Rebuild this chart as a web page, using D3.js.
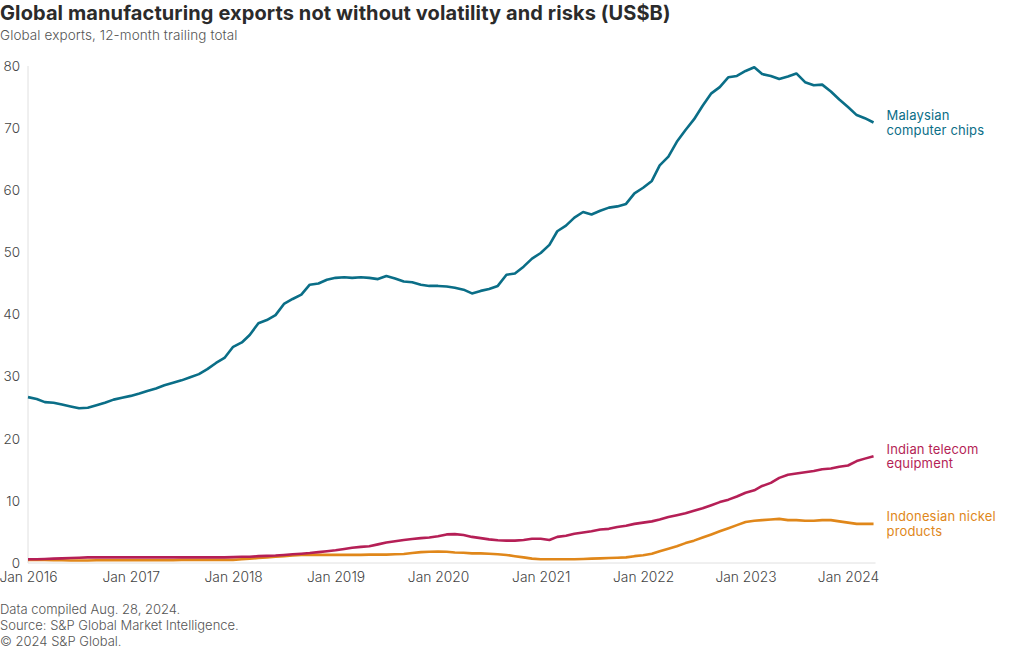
<!DOCTYPE html>
<html>
<head>
<meta charset="utf-8">
<script src="https://cdn.jsdelivr.net/npm/d3@7"></script>
<style>
  body { margin: 0; background: #fff; }
  svg text { font-family: "Inter", "Roboto", sans-serif; }
</style>
</head>
<body>
<svg id="chart" width="1020" height="650"></svg>
<script>
// ---- Data ----
const startMonth = "2016-01";   // monthly series, Jan 2016 .. Apr 2024
const seriesNames = ["Malaysian computer chips", "Indian telecom equipment", "Indonesian nickel products"];
const labelLines = [["Malaysian", "computer chips"], ["Indian telecom", "equipment"], ["Indonesian nickel", "products"]];
const malaysia = [
  26.7, 26.4, 25.9, 25.8, 25.5, 25.2, 24.9, 25.0, 25.4, 25.8, 26.3, 26.6,
  26.9, 27.3, 27.7, 28.1, 28.6, 29.0, 29.4, 29.9, 30.4, 31.2, 32.2, 33.0,
  34.8, 35.5, 36.7, 38.6, 39.1, 39.9, 41.7, 42.5, 43.2, 44.8, 45.0, 45.6,
  45.9, 46.0, 45.9, 46.0, 45.9, 45.7, 46.2, 45.8, 45.3, 45.2, 44.8, 44.6,
  44.6, 44.5, 44.3, 44.0, 43.4, 43.8, 44.1, 44.6, 46.4, 46.6, 47.7, 49.0,
  49.9, 51.2, 53.4, 54.3, 55.6, 56.5, 56.1, 56.7, 57.2, 57.4, 57.8, 59.5,
  60.4, 61.5, 64.0, 65.4, 67.8, 69.7, 71.4, 73.6, 75.6, 76.6, 78.2, 78.4,
  79.2, 79.8, 78.7, 78.4, 77.9, 78.3, 78.8, 77.4, 76.9, 77.0, 75.9, 74.6,
  73.4, 72.1, 71.6, 70.9
];
const india = [
  0.6, 0.6, 0.65, 0.7, 0.75, 0.8, 0.85, 0.9, 0.9, 0.9, 0.9, 0.9,
  0.9, 0.9, 0.9, 0.9, 0.9, 0.9, 0.9, 0.9, 0.9, 0.9, 0.9, 0.9,
  0.95, 1.0, 1.0, 1.1, 1.15, 1.2, 1.3, 1.4, 1.5, 1.6, 1.75, 1.9,
  2.05, 2.25, 2.45, 2.6, 2.7, 3.0, 3.3, 3.5, 3.7, 3.85, 4.0, 4.1,
  4.3, 4.6, 4.65, 4.5, 4.2, 4.0, 3.8, 3.65, 3.6, 3.6, 3.7, 3.9,
  3.9, 3.7, 4.2, 4.4, 4.7, 4.9, 5.1, 5.4, 5.5, 5.8, 6.0, 6.3,
  6.5, 6.7, 7.0, 7.4, 7.7, 8.0, 8.4, 8.8, 9.3, 9.8, 10.2, 10.7,
  11.3, 11.7, 12.4, 12.9, 13.7, 14.2, 14.4, 14.6, 14.8, 15.1, 15.2, 15.5,
  15.7, 16.4, 16.8, 17.2
];
const indonesia = [
  0.5, 0.5, 0.5, 0.45, 0.45, 0.4, 0.4, 0.4, 0.45, 0.45, 0.45, 0.45,
  0.45, 0.45, 0.45, 0.45, 0.45, 0.45, 0.5, 0.5, 0.5, 0.5, 0.5, 0.5,
  0.5, 0.6, 0.7, 0.8, 0.9, 1.0, 1.1, 1.2, 1.3, 1.3, 1.3, 1.3,
  1.3, 1.3, 1.3, 1.3, 1.35, 1.35, 1.35, 1.4, 1.45, 1.6, 1.75, 1.8,
  1.85, 1.8, 1.7, 1.65, 1.55, 1.55, 1.5, 1.4, 1.3, 1.1, 0.9, 0.7,
  0.6, 0.6, 0.6, 0.6, 0.6, 0.65, 0.7, 0.75, 0.8, 0.85, 0.9, 1.1,
  1.25, 1.5, 1.9, 2.3, 2.7, 3.2, 3.6, 4.1, 4.6, 5.1, 5.6, 6.1,
  6.6, 6.8, 6.9, 7.0, 7.1, 6.9, 6.9, 6.8, 6.8, 6.9, 6.9, 6.7,
  6.5, 6.3, 6.3, 6.3
];
const yTicks = [0, 10, 20, 30, 40, 50, 60, 70, 80];
const xTickYears = [2016, 2017, 2018, 2019, 2020, 2021, 2022, 2023, 2024];
const colors = ["#0a6e87", "#b51f56", "#e0871a"];
const title = "Global manufacturing exports not without volatility and risks (US$B)";
const subtitle = "Global exports, 12-month trailing total";
const footer = ["Data compiled Aug. 28, 2024.", "Source: S&P Global Market Intelligence.", "© 2024 S&P Global."];

// ---- Build ----
const parse = d3.timeParse("%Y-%m");
const t0 = parse(startMonth);
const allSeries = [malaysia, india, indonesia];
const dates = malaysia.map((_, i) => d3.timeMonth.offset(t0, i));

const svg = d3.select("#chart");
const x = d3.scaleTime()
  .domain([new Date(2016, 0, 1), new Date(2024, 0, 1)])
  .range([28, 848]);
const y = d3.scaleLinear().domain([0, 80]).range([563, 66]);

// title
svg.append("text").attr("x", 0).attr("y", 20)
  .attr("font-size", 20).attr("font-weight", 700).attr("fill", "#2b2b2b")
  .attr("letter-spacing", 0.1)
  .text(title);
svg.append("text").attr("x", 0).attr("y", 40)
  .attr("font-size", 13.5).attr("font-weight", 300).attr("fill", "#555")
  .attr("letter-spacing", 0.1)
  .text(subtitle);

// axes lines
const lastX = x(dates[dates.length - 1]);
svg.append("line").attr("x1", 28).attr("x2", lastX + 2)
  .attr("y1", y(0)).attr("y2", y(0)).attr("stroke", "#e0e0e0").attr("stroke-width", 1);
svg.append("line").attr("x1", 28).attr("x2", 28)
  .attr("y1", y(80)).attr("y2", y(0)).attr("stroke", "#e0e0e0").attr("stroke-width", 1);

// y axis
const yAxis = d3.axisLeft(y).tickValues(yTicks).tickSize(0).tickPadding(8).tickFormat(d3.format("d"));
const gy = svg.append("g").attr("transform", "translate(28,0)").call(yAxis);
gy.select(".domain").remove();
gy.selectAll("text").attr("font-size", 13.5).attr("font-weight", 300).attr("fill", "#444")
  .attr("font-family", "Inter, sans-serif");

// x axis
const xAxis = d3.axisBottom(x)
  .tickValues(xTickYears.map(yr => new Date(yr, 0, 1)))
  .tickSize(0).tickPadding(9).tickFormat(d3.timeFormat("Jan %Y"));
const gx = svg.append("g").attr("transform", `translate(0,${y(0)})`).call(xAxis);
gx.select(".domain").remove();
gx.selectAll("text").attr("font-size", 13.8).attr("font-weight", 300).attr("fill", "#444")
  .attr("font-family", "Inter, sans-serif");

// lines
const line = d3.line().x((d, i) => x(dates[i])).y(d => y(d));
[2, 1, 0].forEach(k => {
  svg.append("path").datum(allSeries[k])
    .attr("fill", "none").attr("stroke", colors[k]).attr("stroke-width", 2.6)
    .attr("stroke-linejoin", "round").attr("stroke-linecap", "butt")
    .attr("d", line);
});

// end labels
allSeries.forEach((s, k) => {
  const ey = y(s[s.length - 1]);
  labelLines[k].forEach((ln, j) => {
    svg.append("text").attr("x", lastX + 13).attr("y", ey - 7 + 4.5 + j * 14.5)
      .attr("font-size", 13).attr("letter-spacing", 0.15).attr("fill", colors[k]).text(ln);
  });
});

// footer
footer.forEach((f, i) => {
  svg.append("text").attr("x", 0).attr("y", 614 + i * 16)
    .attr("font-size", 13).attr("font-weight", 300).attr("fill", "#555").text(f);
});
</script>
</body>
</html>
